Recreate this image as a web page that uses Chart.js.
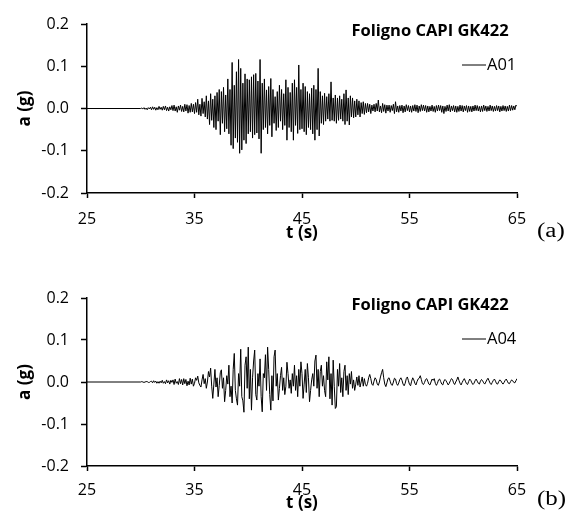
<!doctype html>
<html lang="en">
<head>
<meta charset="utf-8">
<title>Foligno CAPI GK422</title>
<script src="https://cdn.jsdelivr.net/npm/chart.js@4.4.1/dist/chart.umd.min.js"></script>
<style>
  body { margin: 0; background: #fff; }
  .panel { position: absolute; left: 0; }
  .tag { position: absolute; font-family: "Liberation Serif", serif; font-size: 20px; color: #000;
         transform: scaleX(1.25); transform-origin: left top; }
</style>
</head>
<body>

<canvas id="chartA" class="panel" width="568" height="260" style="top:0"></canvas>
<div class="tag" style="left:537px; top:219px;">(a)</div>

<canvas id="chartB" class="panel" width="568" height="263" style="top:260px"></canvas>
<div class="tag" style="left:537px; top:487px;">(b)</div>

<script>
  // ---- data (accelerations, in milli-g) ----
  const stationTitle = 'Foligno CAPI GK422';
  const xTicks = [25, 35, 45, 55, 65];          // t (s)
  const yTicks = [-0.2, -0.1, 0.0, 0.1, 0.2];   // a (g), labelled
  const yMinorTicks = [-0.15, -0.05, 0.05, 0.15];

  const tStart = 25;     // trace is flat from here
  const t0 = 30.0;       // first digitised sample
  const dt = 0.1;        // digitising step (s)

  // A01, one row per second, 30 s ... 65 s
  const a01 = [
     0,  1, -1,  2, -2,  1, -3,  2, -1,  3,
    -3,  4, -2,  3, -4,  2, -3,  5, -2,  3,
    -4,  5, -3,  6, -5,  3, -6,  4, -3,  7,
    -5,  8, -6,  4, -9,  6, -4,  8, -7,  5,
    -8, 10, -6,  9,-11,  7, -9, 12, -8, 10,
   -12, 14, -9, 22,-15, 10,-18, 24,-12, 16,
   -20, 30,-25, 18,-38, 35,-28, 22,-45, 30,
   -50, 38,-30, 45,-62, 40,-35, 50,-55, 32,
   -48, 70,-60, 45,-87,109,-95, 55,-70, 87,
   -80,116,-106,95,-98, 60,-75, 82,-83, 70,
   -60, 68,-55, 75,-70, 80,-62, 83,-58, 65,
   -72,116,-106,60,-50, 70,-45, 44,-60, 52,
   -40, 71,-67, 45,-35, 28,-52, 40,-45, 55,
   -30, 45,-50, 35,-40, 68,-75, 50,-45, 38,
   -55, 60,-75, 68,-40, 50,-59,103,-50, 45,
   -48, 60,-55, 52,-62, 40,-45, 35,-50, 48,
   -60, 55,-75, 45,-50, 95,-65, 40,-35, 30,
   -38, 36,-30, 28,-25, 35,-30, 63,-28, 25,
   -30, 32,-35, 25,-28, 30,-25, 22,-30, 35,
   -38, 44,-30, 25,-39, 30,-20, 25,-22, 18,
   -20, 22,-15, 18,-20, 14,-12, 16,-14, 12,
   -10, 12, -8, 10,-12,  8, -6, 10, -8, 12,
    -6, 20, -8,  6,-10, 12, -7,  9,-11,  8,
    -6,  8, -9,  7, -5, 10,-12, 16, -8,  6,
    -9,  7, -6,  8,-10,  6, -8,  9, -5,  7,
    -8,  6, -9,  7, -6,  9, -7,  8,-10,  6,
    -7,  9, -5,  8, -6,  7, -9,  6, -8,  5,
    -6,  8, -7,  5, -9,  7, -6,  8, -5,  7,
    -9,  6,-12,  5, -7,  8, -6,  9, -8,  6,
    -5,  7, -8,  6, -9,  5, -7,  8, -6,  7,
    -8,  6, -5,  7, -9,  6, -7,  5, -8,  6,
    -6,  8, -5,  7, -6,  5, -8,  6, -7,  8,
    -5,  6, -7,  5, -6,  8, -5,  6, -7,  5,
    -6,  7, -5,  6, -8,  5, -6,  7, -5,  6,
    -7,  5, -6,  8, -5,  7, -4,  6, -3,  8,
     5
  ];

  // A04
  const a04 = [
     0,  1,  0, -1,  0,  1,  1, -1, -1,  1,
     2, -2,  3, -1,  2, -3,  1, -3,  2, -2,
     4, -3,  1, -4,  5, -2,  3, -5,  4, -1,
     5, -6,  7, -3,  1, -6,  8, -4,  6, -7,
     8, -4,  6, -9,  2, -7,  9, -5,  7,-10,
    -3, 10,  4, 14, -2, -8,-12,  5, 18, -4,
     8,-15,  0, 25, 12, 33,-10,-39, -5, 30,
   -12, 10,-35, -8, 22, 29,-15, 10,-47,-20,
    15, -5, 40,-35,-10,-50, 30, 68,-20,-40,
   -55, 20,-10, 78,-35,-45,-72, 40, 60,-15,
    83,-40, 30,-67, 10, 50, 76,-30,-43, 20,
   -10, 55,-35,-71, 20, 10, 65,-20, 83, 30,
   -30,-67, 15,-45, 60, 76,-10, 20,-43,-15,
    15, 35,-20, 10,-30,-10, 47, 20,-15,  5,
   -27, 20,-10, 40,-20, 15,-35, 30,-10, 48,
    20,-39, -5, 30,-25, 44, 10,-47,-20,  5,
    20,-10, 50, 64,-15, 30,-35, 25, 40,-10,
    15,-20,-35, 48,  5, 60,-40, 20,-55, 52,
   -10,-63,-59, 30,-10, 44,-25, 10,-35, 25,
    40,-20, 15,-30, 20, -5, 25,-15,  5,-20,
    -5, 12, -8, 15,-12,  0, 12,-10,  8, -6,
   -10, -3, 10, 18,  8, -5, -8,  2, 10,  6,
    -5, -8,  0, 12, 22, 30, 10, -5,-11, -2,
     8, 10,  2, -6, -8,  0,  9,  7, -4, -8,
    -2,  6, 10,  4, -5, -9, -3,  8, 12,  3,
    -6, -9,  2, 10,  5, -3, -7,  1,  7,  9,
    15,  6, -4, -6, -1,  6,  8,  2, -5, -7,
     0,  7,  4,  8, -3, -8, -3,  5,  7,  1,
    -5, -7,  2,  6,  3, -2, -7, -3,  3,  8,
     6, -2, -6,  0,  5, 12,  4, -3, -7, -1,
     4,  8,  2, -4, -6,  1,  7,  4, -2, -6,
    -3,  3,  7,  2, -3, -5,  2,  6,  3, -2,
    -5,  0,  5,  9,  3, -3, -6, -1,  4,  7,
     2, -4, -5,  1,  5,  3, -2, -5, -1,  4,
     7,  2, -3, -4,  1,  5,  3, -1, -2,  3,
     8
  ];

  function toPoints(mg) {
    const pts = [{ x: tStart, y: 0 }];
    mg.forEach((v, i) => pts.push({ x: +(t0 + i * dt).toFixed(2), y: v / 1000 }));
    return pts;
  }

  // title + legend drawn inside the plot area, top right
  const insideText = {
    id: 'insideText',
    afterDraw(chart) {
      const { ctx, chartArea } = chart;
      ctx.save();
      ctx.fillStyle = '#000';
      ctx.textBaseline = 'middle';
      ctx.font = 'bold 16.5px "Open Sans"';
      ctx.textAlign = 'center';
      ctx.fillText(stationTitle, chartArea.right - 87, chartArea.top + 7);
      const y = chartArea.top + 41;
      ctx.strokeStyle = '#000';
      ctx.lineWidth = 1;
      ctx.beginPath();
      ctx.moveTo(chartArea.right - 55, y);
      ctx.lineTo(chartArea.right - 31, y);
      ctx.stroke();
      ctx.font = '16.5px "Open Sans"';
      ctx.textAlign = 'left';
      ctx.fillText(chart.data.datasets[0].label, chartArea.right - 30, y);
      ctx.restore();
    }
  };

  function makeChart(id, label, mg, pad, xHeight, xPad) {
    const tickFont = { family: 'Open Sans', size: 16 };
    const titleFont = { family: 'Open Sans', size: 17, weight: 'bold' };
    return new Chart(document.getElementById(id), {
      type: 'line',
      data: {
        datasets: [{
          label: label,
          data: toPoints(mg),
          borderColor: '#000',
          borderWidth: 1,
          pointRadius: 0,
          tension: 0
        }]
      },
      options: {
        responsive: false,
        animation: false,
        layout: { padding: pad },
        plugins: { legend: { display: false }, tooltip: { enabled: false } },
        scales: {
          x: {
            type: 'linear',
            min: xTicks[0],
            max: xTicks[xTicks.length - 1],
            afterBuildTicks: s => { s.ticks = xTicks.map(v => ({ value: v })); },
            afterFit: s => { s.height = xHeight; },
            border: { color: '#000', width: 1.5 },
            grid: { drawOnChartArea: false, tickLength: 5, tickColor: '#000', tickWidth: 1.5 },
            ticks: { color: '#000', font: tickFont, padding: xPad, maxRotation: 0 },
            title: { display: true, text: 't (s)', color: '#000', font: titleFont, padding: 0 }
          },
          y: {
            min: yTicks[0],
            max: yTicks[yTicks.length - 1],
            afterBuildTicks: s => {
              s.ticks = yTicks.concat(yMinorTicks).sort((a, b) => a - b).map(v => ({ value: v }));
            },
            afterFit: s => { s.width = 72; },
            border: { color: '#000', width: 1.5 },
            grid: { drawOnChartArea: false, tickLength: 6, tickColor: '#000', tickWidth: 1.5 },
            ticks: {
              color: '#000', font: tickFont, padding: 12,
              callback: v => yTicks.some(t => Math.abs(t - v) < 1e-9) ? v.toFixed(1) : ''
            },
            title: { display: true, text: 'a (g)', color: '#000', font: titleFont, padding: 0 }
          }
        }
      },
      plugins: [insideText]
    });
  }

  makeChart('chartA', 'A01', a01, { top: 24, left: 15, right: 51, bottom: 17 }, 50, 12);
  makeChart('chartB', 'A04', a04, { top: 38, left: 15, right: 51, bottom: 10 }, 47, 10);
</script>
</body>
</html>
